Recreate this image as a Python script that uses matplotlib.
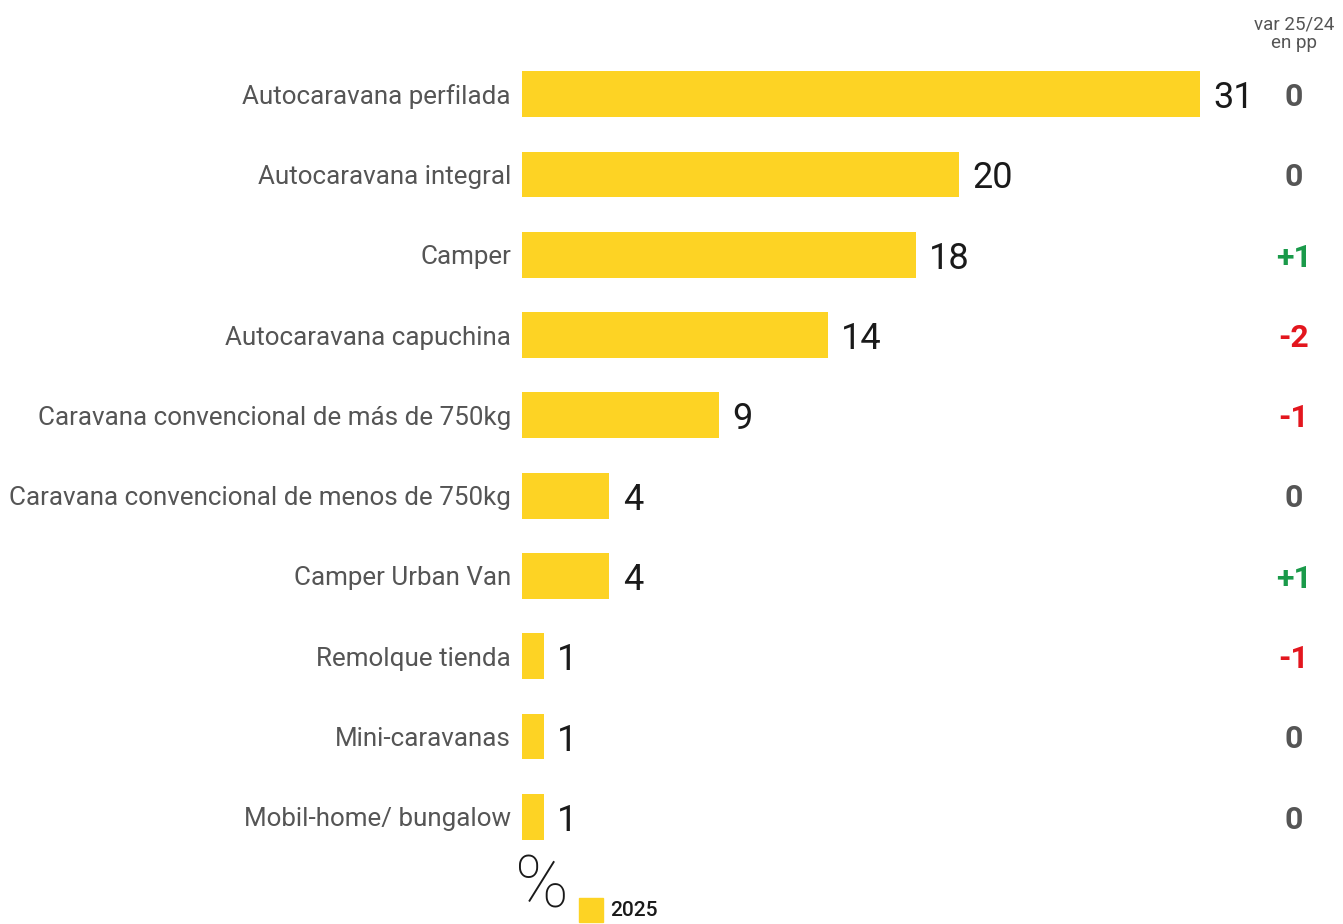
import matplotlib.pyplot as plt

plt.rcParams['font.family'] = ['Roboto', 'DejaVu Sans']

categories = [
    "Autocaravana perfilada",
    "Autocaravana integral",
    "Camper",
    "Autocaravana capuchina",
    "Caravana convencional de más de 750kg",
    "Caravana convencional de menos de 750kg",
    "Camper Urban Van",
    "Remolque tienda",
    "Mini-caravanas",
    "Mobil-home/ bungalow",
]
share_2025 = [31, 20, 18, 14, 9, 4, 4, 1, 1, 1]
var_pp = [0, 0, 1, -2, -1, 0, 1, -1, 0, 0]

YELLOW = '#FDD324'
GRAY = '#555555'
GREEN = '#1A9A4A'
RED = '#E3161E'

W, H = 1343, 924
fig = plt.figure(figsize=(W / 100, H / 100), dpi=100)

left_px, right_px = 522, 1343
top_px, bot_px = 54, 857
ax = fig.add_axes([left_px / W, 1 - bot_px / H, (right_px - left_px) / W, (bot_px - top_px) / H])
px_per_unit = (1200 - 522) / 31
ax.set_xlim(0, (right_px - left_px) / px_per_unit)
ax.set_ylim(len(categories) - 0.5, -0.5)

ypos = list(range(len(categories)))
ax.barh(ypos, share_2025, height=0.57, color=YELLOW)

for y, v in zip(ypos, share_2025):
    ax.text(v + 0.6, y, str(v), va='center_baseline', ha='left', fontsize=26, color='#1a1a1a')

ax.set_yticks(ypos)
ax.set_yticklabels(categories, fontsize=18.7, color=GRAY, va='center_baseline')
ax.tick_params(axis='y', length=0, pad=8)
ax.set_xticks([])
for s in ax.spines.values():
    s.set_visible(False)

# var column
var_x = 1294 / W
for y, d in zip(ypos, var_pp):
    if d > 0:
        txt, col = f"+{d}", GREEN
    elif d < 0:
        txt, col = f"-{abs(d)}", RED
    else:
        txt, col = "0", GRAY
    yf = 1 - (94 + 80.3 * y) / H
    fig.text(var_x, yf, txt, ha='center', va='center_baseline', fontsize=23,
             fontweight='bold', color=col)

fig.text(var_x, 1 - 34 / H, "var 25/24\nen pp", ha='center', va='center', fontsize=13.5,
         color=GRAY, linespacing=1.05)

# unit + legend
fig.text(515 / W, 1 / H, "%", ha='left', va='bottom', fontsize=52, color='#1a1a1a',
         fontweight='light')
fig.patches.append(plt.Rectangle((579 / W, 1 - 922 / H), 24 / W, 24 / H,
                                 transform=fig.transFigure, color=YELLOW))
fig.text(610 / W, 1 - 911 / H, "2025", ha='left', va='center', fontsize=15,
         color='#1a1a1a', fontweight='medium')

fig.savefig('out.png', dpi=100)
